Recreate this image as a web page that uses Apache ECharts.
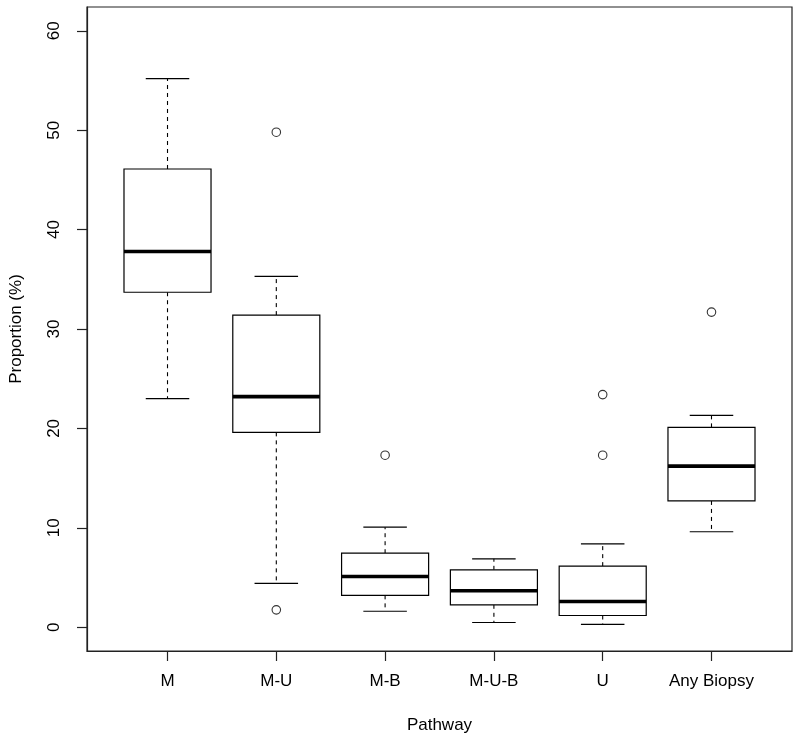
<!DOCTYPE html>
<html>
<head>
<meta charset="utf-8">
<script src="https://cdn.jsdelivr.net/npm/echarts@6/dist/echarts.min.js"></script>
<style>html,body{margin:0;padding:0;background:#fff}#c{width:800px;height:742px}</style>
</head>
<body>
<div id="c"></div>
<script>
const categories = ['M', 'M-U', 'M-B', 'M-U-B', 'U', 'Any Biopsy'];
const whiskerLow  = [23.0, 4.4, 1.6, 0.47, 0.27, 9.6];
const q1          = [33.7, 19.6, 3.2, 2.25, 1.17, 12.7];
const median      = [37.8, 23.2, 5.1, 3.66, 2.58, 16.2];
const q3          = [46.1, 31.4, 7.44, 5.77, 6.14, 20.1];
const whiskerHigh = [55.2, 35.3, 10.06, 6.87, 8.38, 21.3];
const outliers = [
  ['M-U', 49.8], ['M-U', 1.74],
  ['M-B', 17.3],
  ['U', 23.4], ['U', 17.3],
  ['Any Biopsy', 31.7]
];
const yTicks = [0, 10, 20, 30, 40, 50, 60];

const boxData = categories.map((c, i) => [i + 1, whiskerLow[i], q1[i], median[i], q3[i], whiskerHigh[i]]);
const outlierData = outliers.map(o => [categories.indexOf(o[0]) + 1, o[1]]);
const xPos = categories.map((c, i) => i + 1);

const chart = echarts.init(document.getElementById('c'), null, {renderer: 'canvas'});
const FONT = 'Liberation Sans, Arial, Helvetica, sans-serif';
const black = '#000';

chart.setOption({
  animation: false,
  backgroundColor: '#fff',
  grid: {left: 86, right: 8, top: 7, bottom: 91, show: true, borderColor: '#222', borderWidth: 1.2, backgroundColor: 'transparent'},
  xAxis: {
    type: 'value', min: 0.26, max: 6.74,
    name: 'Pathway', nameLocation: 'middle', nameGap: 66,
    nameTextStyle: {fontFamily: FONT, fontSize: 17, color: black},
    axisLine: {show: true, onZero: false, lineStyle: {color: '#222', width: 1.2}},
    axisTick: {show: true, length: 10, customValues: xPos, lineStyle: {color: '#222', width: 1.2}},
    axisLabel: {customValues: xPos, margin: 22, fontFamily: FONT, fontSize: 17, color: black,
      formatter: v => categories[Math.round(v) - 1] || ''},
    splitLine: {show: false}
  },
  yAxis: {
    type: 'value', min: -2.4, max: 62.4,
    name: 'Proportion (%)', nameLocation: 'middle', nameGap: 62,
    nameTextStyle: {fontFamily: FONT, fontSize: 17, color: black},
    axisLine: {show: true, onZero: false, lineStyle: {color: '#222', width: 1.2}},
    axisTick: {show: true, length: 10, customValues: yTicks, lineStyle: {color: '#222', width: 1.2}},
    axisLabel: {customValues: yTicks, rotate: 90, margin: 24, fontFamily: FONT, fontSize: 17, color: black},
    splitLine: {show: false}
  },
  series: [
    {
      type: 'custom',
      data: boxData,
      encode: {x: 0, y: [1, 2, 3, 4, 5]},
      renderItem: function (params, api) {
        const x = api.value(0);
        const lo = api.coord([x, api.value(1)]);
        const b1 = api.coord([x, api.value(2)]);
        const md = api.coord([x, api.value(3)]);
        const b3 = api.coord([x, api.value(4)]);
        const hi = api.coord([x, api.value(5)]);
        const w = api.size([0.8, 0])[0];
        const cx = lo[0];
        const thin = {stroke: black, lineWidth: 1.2};
        const dash = {stroke: black, lineWidth: 1.1, lineDash: [4, 4]};
        return {
          type: 'group',
          children: [
            {type: 'line', shape: {x1: cx, y1: b3[1], x2: cx, y2: hi[1]}, style: dash},
            {type: 'line', shape: {x1: cx, y1: b1[1], x2: cx, y2: lo[1]}, style: dash},
            {type: 'line', shape: {x1: cx - w / 4, y1: hi[1], x2: cx + w / 4, y2: hi[1]}, style: thin},
            {type: 'line', shape: {x1: cx - w / 4, y1: lo[1], x2: cx + w / 4, y2: lo[1]}, style: thin},
            {type: 'rect', shape: {x: cx - w / 2, y: b3[1], width: w, height: b1[1] - b3[1]}, style: {fill: '#fff', stroke: black, lineWidth: 1.2}},
            {type: 'line', shape: {x1: cx - w / 2, y1: md[1], x2: cx + w / 2, y2: md[1]}, style: {stroke: black, lineWidth: 3.6}}
          ]
        };
      }
    },
    {
      type: 'scatter',
      data: outlierData,
      symbol: 'circle',
      symbolSize: 8.5,
      itemStyle: {color: '#fff', borderColor: black, borderWidth: 1.1},
      z: 3
    }
  ]
});
</script>
</body>
</html>
